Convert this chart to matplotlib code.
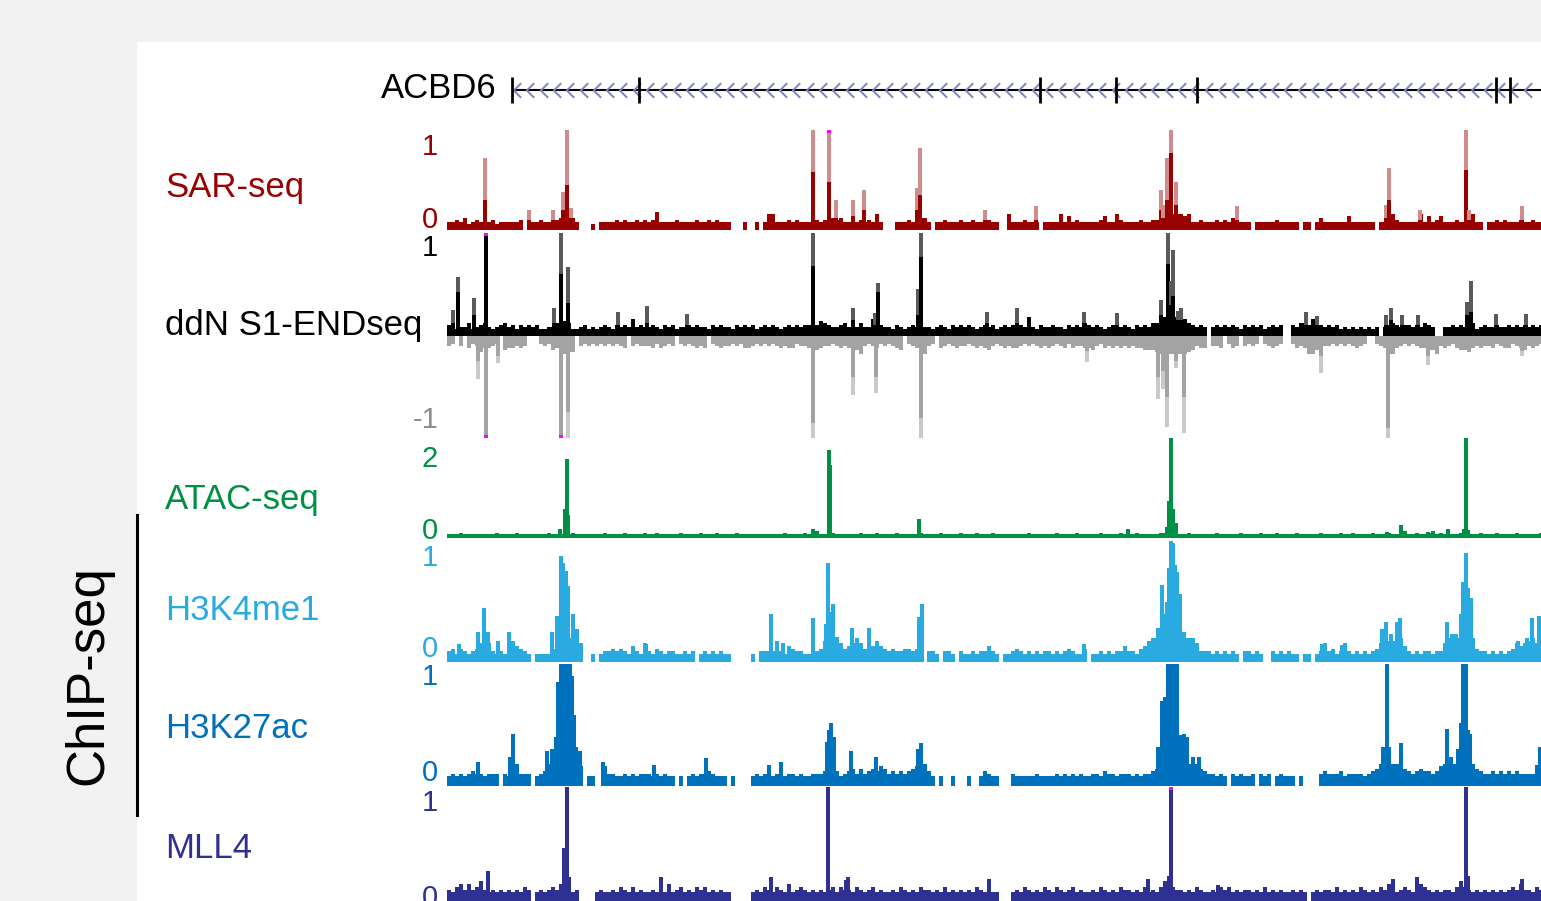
import matplotlib.pyplot as plt
from matplotlib.patches import Rectangle
from matplotlib.lines import Line2D
import numpy as np

plt.rcParams['font.family'] = ['Liberation Sans', 'DejaVu Sans']

# ---------- data ----------
# genomic window, in bin units (0 .. 1094); baselines are strings of 4-unit bins,
# 10 bins per chunk, digit = signal level (x track unit), 0 = no data
BIN = 4
GROUP = 10 * BIN
REGION = (0, 1094)

GENE_NAME = 'ACBD6'
GENE_SPAN = (65, 1200)
GENE_EXONS = [65, 192, 593, 669, 750, 1049, 1063]

SAR_BASE = [
    "4454634544", "4534444450", "8445449566", "6640003044", "4454544545",
    "4594444544", "4454454544", "4000400404", "8844454544", "4454546564",
    "4445454840", "0044454566", "4044544454", "4544854400", "8444544404",
    "4448474544", "4445744854", "4445445568", "8888784454", "4454546644",
    "4044444544", "4440440464", "4444474444", "4404468544", "4448474574",
    "4454448440", "4454544454", "4544",
]
# (position, max, mean)
SAR_PEAKS = [
    (38, 0.72, 0.30), (82, 0.20, 0.10), (106, 0.20, 0.10), (116, 0.38, 0.20),
    (120, 1.00, 0.45), (124, 0.22, 0.12), (366, 1.00, 0.58), (382, 1.15, 0.48),
    (389, 0.30, 0.12), (406, 0.30, 0.14), (417, 0.40, 0.20), (470, 0.42, 0.20),
    (473, 0.82, 0.35), (538, 0.20, 0.10), (589, 0.24, 0.10), (714, 0.40, 0.20),
    (716, 0.25, 0.12), (720, 0.72, 0.30), (724, 1.00, 0.77), (729, 0.48, 0.25),
    (790, 0.24, 0.10), (939, 0.25, 0.12), (942, 0.62, 0.30), (973, 0.20, 0.10),
    (1019, 1.00, 0.60), (1022, 0.20, 0.10), (1075, 0.24, 0.10),
]

DDN_POS_BASE = [
    "5434463456", "4345645354", "5453344687", "6334534345", "4354548454",
    "4543545344", "5454435454", "4354545345", "4543454545", "5457654456",
    "4546448454", "4354345484", "4345435454", "5434545345", "4545494354",
    "4544354546", "5454345845", "4354546689", "9999865454", "0454545435",
    "4545345450", "0546658654", "5453434343", "4340456545", "5454654004",
    "4545446345", "4454454545", "4545",
]
DDN_NEG_BASE = [
    "5405064586", "6540766565", "0004547689", "8805454545", "4545605455",
    "5646545045", "4565604565", "5454665454", "5456566455", "6576554565",
    "6579545645", "4567045659", "5406545655", "4565675456", "5665454565",
    "6545646556", "6754656565", "6566777899", "9999987566", "0556046505",
    "4540456540", "0465699765", "5454545654", "0045699654", "5456677956",
    "5467786565", "5645664567", "5654",
]
DDN_POS_PEAKS = [
    (6, 0.25, 0.12), (11, 0.57, 0.42), (27, 0.37, 0.20), (39, 1.10, 1.10),
    (107, 0.27, 0.12), (114, 1.00, 0.60), (121, 0.67, 0.32), (171, 0.23, 0.10),
    (200, 0.29, 0.12), (240, 0.21, 0.10), (366, 1.00, 0.68), (406, 0.27, 0.15),
    (428, 0.22, 0.10), (431, 0.51, 0.42), (471, 0.45, 0.20), (474, 1.00, 0.77),
    (540, 0.23, 0.12), (570, 0.27, 0.12), (637, 0.23, 0.12), (670, 0.22, 0.10),
    (714, 0.35, 0.20), (721, 1.00, 0.70), (724, 0.53, 0.30), (726, 0.83, 0.39),
    (731, 0.24, 0.15), (734, 0.27, 0.15), (859, 0.23, 0.10), (870, 0.19, 0.10),
    (939, 0.20, 0.10), (944, 0.27, 0.15), (955, 0.20, 0.10), (971, 0.20, 0.10),
    (1020, 0.33, 0.20), (1024, 0.53, 0.23), (1049, 0.21, 0.10), (1079, 0.21, 0.10),
]
DDN_NEG_PEAKS = [
    (31, 0.42, 0.25), (39, 1.10, 1.10), (51, 0.27, 0.20), (114, 1.10, 1.10),
    (121, 1.00, 0.75), (366, 1.00, 0.85), (406, 0.58, 0.40), (429, 0.56, 0.40),
    (474, 1.00, 0.80), (640, 0.26, 0.15), (711, 0.62, 0.40), (716, 0.52, 0.35),
    (720, 0.89, 0.60), (729, 0.32, 0.25), (737, 0.95, 0.60), (874, 0.37, 0.20),
    (941, 1.00, 0.90), (981, 0.29, 0.20), (1075, 0.20, 0.15),
]

ATAC_BASE = [
    "3334333333", "3343333433", "3333343334", "3433333334", "3333433334",
    "3343333343", "3334333433", "3343333333", "3333433334", "3453334333",
    "3334333433", "3343333343", "3334333343", "3343334333", "3333343333",
    "3343333433", "3334333343", "3343333344", "3333343333", "3343333343",
    "3334333433", "3343333343", "3334334333", "3433343335", "3343345343",
    "3334333343", "3343333433", "3334",
]
ATAC_PEAKS = [
    (113, 0.18), (118, 0.58), (120, 1.58), (121, 0.46), (366, 0.18),
    (382, 1.76), (383, 1.46), (472, 0.38), (681, 0.18), (720, 0.22),
    (722, 0.74), (724, 2.00), (726, 0.58), (729, 0.30), (940, 0.12),
    (954, 0.26), (981, 0.12), (1001, 0.18), (1017, 0.18), (1019, 2.00),
    (1021, 0.16),
]

H3K4ME1_BASE = [
    "4535434579", "7434345654", "3033335799", "9997003034", "4545436437",
    "4354344334", "3403434343", "3000003044", "4484365443", "3845899975",
    "6797576865", "4544554590", "4430443043", "3434464303", "3454343434",
    "4343454335", "0334343446", "4435689999", "9999999744", "4343434304",
    "4343004343", "4330330347", "4534743434", "3457888896", "4343443447",
    "9999999544", "3434345767", "8979",
]
H3K4ME1_PEAKS = [
    (12, 0.15), (31, 0.25), (37, 0.45), (41, 0.25), (51, 0.17), (62, 0.25),
    (66, 0.17), (105, 0.25), (110, 0.38), (114, 0.88), (116, 0.82),
    (119, 0.75), (121, 0.63), (126, 0.40), (130, 0.27), (133, 0.13),
    (199, 0.15), (324, 0.40), (336, 0.16), (366, 0.36), (379, 0.31),
    (381, 0.82), (384, 0.41), (386, 0.48), (390, 0.21), (405, 0.28),
    (422, 0.28), (472, 0.37), (475, 0.48), (542, 0.12), (637, 0.15),
    (711, 0.28), (715, 0.64), (718, 0.40), (720, 0.50), (722, 0.78),
    (724, 1.00), (726, 0.98), (728, 0.80), (730, 0.74), (733, 0.56),
    (737, 0.25), (741, 0.20), (875, 0.15), (895, 0.14), (935, 0.27),
    (939, 0.33), (944, 0.23), (950, 0.33), (953, 0.36), (1000, 0.33),
    (1005, 0.23), (1009, 0.23), (1014, 0.40), (1016, 0.66), (1019, 0.90),
    (1021, 0.61), (1024, 0.53), (1071, 0.17), (1080, 0.20), (1085, 0.36),
    (1092, 0.38),
]

H3K27AC_BASE = [
    "4545456554", "5550545955", "5045699999", "9998044008", "5544545455",
    "5454544040", "4545565444", "0400004545", "5455455454", "4555699645",
    "6757567687", "5656567899", "6404004000", "4004654400", "0544444544",
    "4454545454", "4554655455", "5454556789", "9999999976", "5545405454",
    "4505450454", "4404000056", "5556455554", "5679999997", "6567665689",
    "9999999765", "5656565655", "5579",
]
H3K27AC_PEAKS = [
    (31, 0.20), (63, 0.24), (66, 0.43), (100, 0.29), (105, 0.30), (109, 0.40),
    (111, 0.85), (114, 1.00), (117, 1.00), (120, 1.00), (123, 1.00),
    (125, 0.90), (127, 0.58), (129, 0.32), (133, 0.29), (156, 0.20),
    (207, 0.17), (259, 0.23), (322, 0.17), (334, 0.20), (380, 0.36),
    (382, 0.46), (384, 0.52), (387, 0.40), (404, 0.29), (429, 0.24),
    (471, 0.30), (474, 0.35), (711, 0.32), (713, 0.32), (715, 0.70),
    (718, 0.73), (721, 1.00), (724, 1.00), (727, 1.00), (730, 1.00),
    (734, 0.42), (737, 0.43), (740, 0.40), (746, 0.24), (752, 0.24),
    (936, 0.32), (940, 1.00), (942, 0.32), (954, 0.35), (1000, 0.47),
    (1004, 0.24), (1011, 0.30), (1014, 0.52), (1016, 1.00), (1019, 1.00),
    (1021, 0.46), (1023, 0.43), (1090, 0.17), (1093, 0.32),
]

MLL4_BASE = [
    "6578686796", "5656565657", "6056567689", "6560000565", "5657657565",
    "5657585675", "6576756565", "5000005657", "6576585676", "5656567576",
    "6576567565", "5657656576", "6565756565", "6576565500", "0565765657",
    "6576567565", "5657656576", "6565756579", "9766565765", "5657675656",
    "6565756565", "5656505656", "6575656576", "5657686567", "6578765656",
    "6579765656", "5656567686", "6576",
]
MLL4_PEAKS = [
    (41, 0.29), (117, 0.49), (120, 1.00), (122, 0.24), (214, 0.24),
    (324, 0.24), (381, 1.00), (399, 0.22), (401, 0.24), (542, 0.23),
    (701, 0.23), (722, 0.25), (724, 1.10), (771, 0.18), (946, 0.23),
    (970, 0.24), (1019, 1.00), (1021, 0.25), (1075, 0.23),
]

# ---------- layout (pixels) ----------
W, H = 1541, 901
X0, X1 = 447, 1541


def track_ax(top, bottom, ylim):
    ax = fig.add_axes([X0 / W, 1 - bottom / H, (X1 - X0) / W, (bottom - top) / H])
    ax.set_xlim(*REGION)
    ax.set_ylim(*ylim)
    ax.axis('off')
    return ax


def draw_base(ax, groups, unit, color, sign=1):
    xs, hs = [], []
    for g, chunk in enumerate(groups):
        for k, c in enumerate(chunk):
            if c != '0':
                xs.append(g * GROUP + k * BIN)
                hs.append(sign * int(c) * unit)
    ax.bar(xs, hs, width=BIN, align='edge', color=color, linewidth=0,
           antialiased=False)


def draw_peaks(ax, peaks, light, dark, lim, px, width=3.2, sign=1):
    flag = 3 / px * lim
    for p in peaks:
        pos, top = p[0], p[1]
        mean = p[2] if len(p) > 2 else top
        ax.bar(pos, sign * min(top, lim), width, color=light, linewidth=0,
               antialiased=False)
        ax.bar(pos, sign * min(mean, lim), width, color=dark, linewidth=0,
               antialiased=False)
        if top > lim:
            ax.bar(pos, sign * flag, width, bottom=sign * (lim - flag),
                   color='#ff00ff', linewidth=0, antialiased=False)


def fig_text(x, y, s, **kw):
    fig.text(x / W, 1 - y / H, s, **kw)


fig = plt.figure(figsize=(W / 100, H / 100), dpi=100)
fig.patch.set_facecolor('#f2f2f2')
fig.add_artist(Rectangle((137 / W, 0), 1 - 137 / W, 1 - 42 / H,
                         transform=fig.transFigure, facecolor='white',
                         edgecolor='none', zorder=0))

# gene model
gax = track_ax(64, 116, (-1, 1))
gax.plot(GENE_SPAN, [0, 0], color='black', lw=1.5, solid_capstyle='butt')
chev = np.arange(GENE_SPAN[0] + 5, REGION[1], 13.3)
gax.plot(chev, np.zeros_like(chev), ls='none',
         marker=[(0.5, 1), (-0.5, 0), (0.5, -1)], markersize=10.5,
         markerfacecolor='none', markeredgecolor='#8282c2', mew=1.4)
gax.vlines(GENE_EXONS, -0.5, 0.5, color='black', lw=2)
fig_text(497, 88, GENE_NAME, fontsize=25, ha='right', va='center')

# SAR-seq
SAR_C = '#990000'
ax = track_ax(130, 230, (0, 1))
draw_base(ax, SAR_BASE, 0.02, SAR_C)
draw_peaks(ax, SAR_PEAKS, '#d08c8c', SAR_C, 1, 100)

# ddN S1-ENDseq
ax = track_ax(233, 438, (-1, 1))
draw_base(ax, DDN_POS_BASE, 0.02, 'black')
draw_base(ax, DDN_NEG_BASE, 0.02, '#a3a3a3', sign=-1)
draw_peaks(ax, DDN_POS_PEAKS, '#5a5a5a', 'black', 1, 102)
draw_peaks(ax, DDN_NEG_PEAKS, '#c9c9c9', '#a3a3a3', 1, 102, sign=-1)

# ATAC-seq
ATAC_C = '#009045'
ax = track_ax(438, 538, (0, 2))
draw_base(ax, ATAC_BASE, 0.027, ATAC_C)
draw_peaks(ax, ATAC_PEAKS, ATAC_C, ATAC_C, 2, 100)

# H3K4me1
K4_C = '#29abe2'
ax = track_ax(541, 662, (0, 1))
draw_base(ax, H3K4ME1_BASE, 0.022, K4_C)
draw_peaks(ax, H3K4ME1_PEAKS, K4_C, K4_C, 1, 121)

# H3K27ac
K27_C = '#0071bc'
ax = track_ax(664, 786, (0, 1))
draw_base(ax, H3K27AC_BASE, 0.02, K27_C)
draw_peaks(ax, H3K27AC_PEAKS, K27_C, K27_C, 1, 122)

# MLL4
MLL_C = '#2e3192'
ax = track_ax(787, 906, (0, 1))
draw_base(ax, MLL4_BASE, 0.023, MLL_C)
draw_peaks(ax, MLL4_PEAKS, MLL_C, MLL_C, 1, 119)

# track labels and scale numbers
labels = [
    ('SAR-seq', 188, SAR_C, [('1', 147), ('0', 220)], SAR_C),
    ('ddN S1-ENDseq', 325, 'black', [('1', 248), ('-1', 420)], None),
    ('ATAC-seq', 500, ATAC_C, [('2', 459), ('0', 531)], ATAC_C),
    ('H3K4me1', 610, K4_C, [('1', 558), ('0', 649)], K4_C),
    ('H3K27ac', 729, K27_C, [('1', 677), ('0', 773)], K27_C),
    ('MLL4', 848, MLL_C, [('1', 803), ('0', 898)], MLL_C),
]
for name, y, col, nums, ncol in labels:
    fig_text(165, y, name, fontsize=25, color=col, ha='left', va='center')
    for s, ny in nums:
        c = ncol if ncol else ('black' if s == '1' else '#8c8c8c')
        fig_text(438, ny, s, fontsize=21, color=c, ha='right', va='center')

fig_text(88, 675, 'ChIP-seq', fontsize=38, rotation=90, ha='center', va='center')
fig.add_artist(Line2D([137 / W, 137 / W], [1 - 515 / H, 1 - 815 / H],
                      color='black', lw=2.2))

fig.savefig('out.png', dpi=100, facecolor=fig.get_facecolor())
